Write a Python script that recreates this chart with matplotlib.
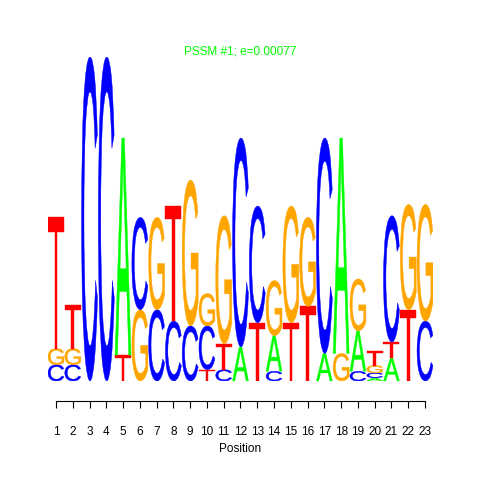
import matplotlib
matplotlib.use("Agg")
import matplotlib.pyplot as plt
from matplotlib.textpath import TextPath
from matplotlib.patches import PathPatch
from matplotlib.font_manager import FontProperties
from matplotlib.transforms import Affine2D

# Sequence logo data: per position, letters stacked bottom -> top with heights in bits
positions = list(range(1, 24))
stack_letters = [
    ["C", "G", "T"],
    ["C", "G", "T"],
    ["C"],
    ["C"],
    ["T", "A"],
    ["G", "C"],
    ["C", "G"],
    ["C", "T"],
    ["C", "G"],
    ["T", "C", "G"],
    ["C", "T", "G"],
    ["A", "C"],
    ["T", "C"],
    ["C", "A", "G"],
    ["T", "G"],
    ["T", "G"],
    ["A", "C"],
    ["G", "A"],
    ["C", "A", "G"],
    ["A", "C", "G", "T"],
    ["A", "T", "C"],
    ["T", "G"],
    ["C", "G"],
]
stack_heights = [
    [0.10, 0.10, 0.81],
    [0.10, 0.10, 0.27],
    [2.00],
    [2.00],
    [0.16, 1.34],
    [0.44, 0.57],
    [0.44, 0.57],
    [0.37, 0.71],
    [0.34, 0.90],
    [0.07, 0.27, 0.20],
    [0.07, 0.16, 0.79],
    [0.21, 1.29],
    [0.36, 0.72],
    [0.06, 0.22, 0.34],
    [0.36, 0.72],
    [0.46, 0.55],
    [0.17, 1.33],
    [0.17, 1.33],
    [0.06, 0.25, 0.32],
    [0.02, 0.03, 0.045, 0.09],
    [0.14, 0.10, 0.78],
    [0.44, 0.65],
    [0.37, 0.72],
]
letter_colors = {"A": "#00FF00", "C": "#0000FF", "G": "#FFA500", "T": "#FF0000"}
title_text = "PSSM #1; e=0.00077"
xlabel_text = "Position"

W, H = 480, 480
fig = plt.figure(figsize=(4.8, 4.8), dpi=100)
left_px, right_px = 47.6, 433.4
base_px, top_px = 381, 57
ax = fig.add_axes([left_px / W, (H - base_px) / H, (right_px - left_px) / W, (base_px - top_px) / H])
ax.set_xlim(0.5, 23.5)
ax.set_ylim(0, 2)

fp = FontProperties(family="Liberation Sans", weight="normal")

def draw_letter(ax, ch, x, y0, h, width=0.95):
    tp = TextPath((0, 0), ch, size=1, prop=fp)
    bb = tp.get_extents()
    sx = width / bb.width
    sy = h / bb.height
    tr = Affine2D().translate(-bb.x0, -bb.y0).scale(sx, sy).translate(x - width / 2, y0)
    path = tr.transform_path(tp)
    ax.add_patch(PathPatch(path, facecolor=letter_colors[ch], edgecolor=letter_colors[ch], lw=0.3))

for pos, letters, heights in zip(positions, stack_letters, stack_heights):
    y = 0.0
    for ch, h in zip(letters, heights):
        draw_letter(ax, ch, pos, y, h)
        y += h

for s in ["top", "right", "left"]:
    ax.spines[s].set_visible(False)
ax.spines["bottom"].set_position(("outward", 14.4))
ax.spines["bottom"].set_bounds(1, 23)
ax.spines["bottom"].set_linewidth(0.8)
ax.set_yticks([])
ax.set_xticks(positions)
ax.set_xticklabels([str(p) for p in positions], fontsize=8.5, family="Liberation Sans")
ax.tick_params(axis="x", length=5, width=0.8, pad=13)
ax.set_xlabel(xlabel_text, fontsize=8.5, family="Liberation Sans", labelpad=3.5)

fig.text(240 / W, 1 - 52 / H, title_text, color="#00FF00", fontsize=8.5,
         family="Liberation Sans", ha="center", va="center")

fig.savefig("out.png", dpi=100)
